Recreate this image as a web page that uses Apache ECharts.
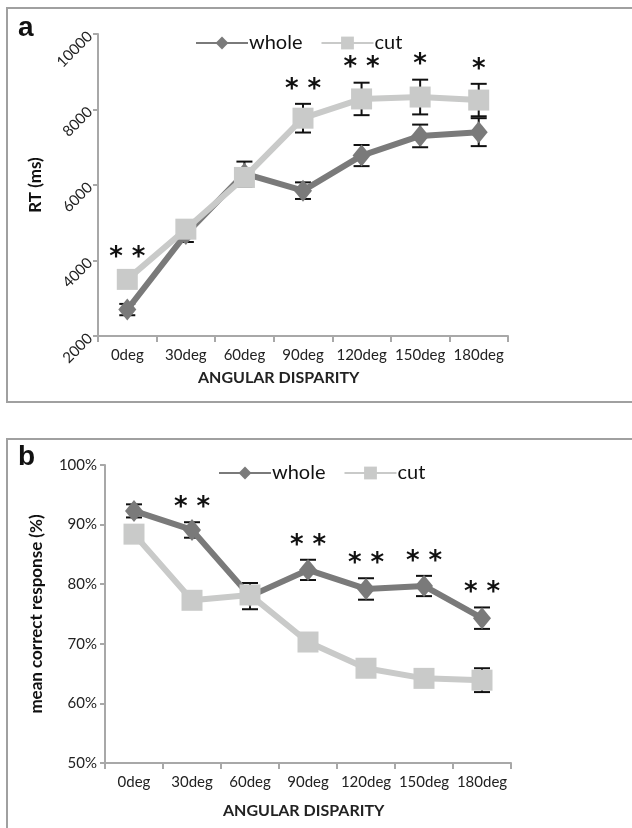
<!DOCTYPE html>
<html>
<head>
<meta charset="utf-8">
<script src="https://cdn.jsdelivr.net/npm/echarts@6/dist/echarts.min.js"></script>
<style>
  html, body { margin: 0; padding: 0; background: #fff; }
  #chart { width: 632px; height: 828px; }
</style>
</head>
<body>
<div id="chart"></div>
<script>
// Angular disparity conditions
const categories = ['0deg', '30deg', '60deg', '90deg', '120deg', '150deg', '180deg'];

// Panel a: reaction time (ms)
const rtWhole    = [2700, 4700, 6300, 5850, 6780, 7300, 7400];
const rtWholeErr = [150, 210, 320, 220, 280, 300, 370];
const rtCut      = [3500, 4830, 6200, 7770, 8280, 8330, 8250];
const rtCutErr   = [200, 200, 250, 380, 430, 460, 430];
const rtStars    = ['**', '', '', '**', '**', '*', '*'];
const rtTicks    = [2000, 10000, 2000]; // min, max, step

// Panel b: mean correct response (%)
const pcWhole    = [92.3, 89.1, 78.0, 82.4, 79.2, 79.7, 74.3];
const pcWholeErr = [1.1, 1.3, 2.2, 1.7, 1.8, 1.7, 1.8];
const pcCut      = [88.4, 77.3, 78.2, 70.3, 65.9, 64.2, 63.9];
const pcCutErr   = [1.0, 1.0, 1.0, 1.2, 1.2, 1.3, 2.0];
const pcStars    = ['', '**', '', '**', '**', '**', '**'];
const pcTicks    = [50, 100, 10];

const DARK = '#7a7a7a';
const LIGHT = '#c9cac9';
const AXIS = '#a8a8a8';
const FONT = 'Lato';

const chart = echarts.init(document.getElementById('chart'), null, { renderer: 'canvas' });

function errorBars(xAxisIndex, yAxisIndex, means, errs, z) {
  return {
    type: 'custom',
    xAxisIndex, yAxisIndex, z,
    silent: true,
    data: means.map((m, i) => [i, m - errs[i], m + errs[i]]),
    renderItem(params, api) {
      const x = api.value(0);
      const lo = api.coord([x, api.value(1)]);
      const hi = api.coord([x, api.value(2)]);
      const half = 8;
      const style = { stroke: '#111', lineWidth: 2 };
      return {
        type: 'group',
        children: [
          { type: 'line', shape: { x1: lo[0], y1: lo[1], x2: hi[0], y2: hi[1] }, style },
          { type: 'line', shape: { x1: lo[0] - half, y1: lo[1], x2: lo[0] + half, y2: lo[1] }, style },
          { type: 'line', shape: { x1: hi[0] - half, y1: hi[1], x2: hi[0] + half, y2: hi[1] }, style }
        ]
      };
    }
  };
}

function stars(xAxisIndex, yAxisIndex, means, errs, marks) {
  return {
    type: 'custom',
    xAxisIndex, yAxisIndex, z: 10,
    silent: true,
    data: means.map((m, i) => [i, m + errs[i], marks[i]]),
    renderItem(params, api) {
      const p = api.coord([api.value(0), api.value(1)]);
      const txt = marks[params.dataIndex];
      if (!txt) return null;
      return {
        type: 'text',
        style: {
          text: txt.split('').join(' '),
          x: p[0], y: p[1] - 1,
          align: 'center', verticalAlign: 'bottom',
          font: 'bold 26px "DejaVu Sans"', fill: '#111'
        }
      };
    }
  };
}

function lineSeries(name, xi, yi, data, color, symbol, size) {
  return {
    type: 'line', name, xAxisIndex: xi, yAxisIndex: yi, data,
    symbol, symbolSize: size,
    lineStyle: { color, width: 6 },
    itemStyle: { color },
    z: name === 'whole' ? 3 : 4,
    animation: false
  };
}

const catAxis = (gridIndex) => ({
  type: 'category', gridIndex, data: categories, boundaryGap: true,
  axisLine: { lineStyle: { color: AXIS, width: 2 } },
  axisTick: { show: true, length: 6, interval: 0, lineStyle: { color: AXIS, width: 2 } },
  axisLabel: { interval: 0, color: '#222', fontSize: 15, fontFamily: FONT, margin: 12 }
});

chart.setOption({
  animation: false,
  graphic: [
    { type: 'rect', shape: { x: 7, y: 8, width: 640, height: 394 }, style: { fill: 'none', stroke: '#a0a0a0', lineWidth: 2 }, z: -1 },
    { type: 'rect', shape: { x: 7, y: 439, width: 640, height: 420 }, style: { fill: 'none', stroke: '#a0a0a0', lineWidth: 2 }, z: -1 },
    { type: 'text', left: 18, top: 14, style: { text: 'a', font: 'bold 28px "Liberation Sans"', fill: '#111' } },
    { type: 'text', left: 18, top: 443, style: { text: 'b', font: 'bold 28px "Liberation Sans"', fill: '#111' } },
    { type: 'text', left: 198, top: 370, style: { text: 'ANGULAR DISPARITY', font: 'bold 16px ' + FONT, fill: '#222' } },
    { type: 'text', left: 223, top: 803, style: { text: 'ANGULAR DISPARITY', font: 'bold 16px ' + FONT, fill: '#222' } }
  ],
  legend: [
    {
      left: 190, top: 28, itemWidth: 52, itemHeight: 16, itemGap: 18,
      data: ['whole', 'cut'],
      textStyle: { fontSize: 20, fontFamily: FONT, color: '#111', padding: [0, 0, 0, -4] }
    },
    {
      left: 213, top: 458, itemWidth: 52, itemHeight: 16, itemGap: 18,
      data: ['whole', 'cut'],
      textStyle: { fontSize: 20, fontFamily: FONT, color: '#111', padding: [0, 0, 0, -4] }
    }
  ],
  grid: [
    { left: 98, top: 34, width: 410, height: 302 },
    { left: 105, top: 465, width: 406, height: 298 }
  ],
  xAxis: [catAxis(0), catAxis(1)],
  yAxis: [
    {
      type: 'value', gridIndex: 0, min: rtTicks[0], max: rtTicks[1], interval: rtTicks[2],
      name: 'RT (ms)', nameLocation: 'middle', nameGap: 52,
      nameTextStyle: { fontSize: 17, fontWeight: 'bold', fontFamily: FONT, color: '#111' },
      splitLine: { show: false },
      axisLine: { show: true, lineStyle: { color: AXIS, width: 2 } },
      axisTick: { show: true, length: 5, lineStyle: { color: AXIS, width: 2 } },
      axisLabel: { rotate: 45, color: '#222', fontSize: 15, fontFamily: FONT, margin: 8, formatter: (v) => String(v) }
    },
    {
      type: 'value', gridIndex: 1, min: pcTicks[0], max: pcTicks[1], interval: pcTicks[2],
      name: 'mean correct response (%)', nameLocation: 'middle', nameGap: 60,
      nameTextStyle: { fontSize: 17, fontWeight: 'bold', fontFamily: FONT, color: '#111' },
      splitLine: { show: false },
      axisLine: { show: true, lineStyle: { color: AXIS, width: 2 } },
      axisTick: { show: true, length: 5, lineStyle: { color: AXIS, width: 2 } },
      axisLabel: { color: '#222', fontSize: 15, fontFamily: FONT, margin: 8, formatter: '{value}%' }
    }
  ],
  series: [
    errorBars(0, 0, rtWhole, rtWholeErr, 2),
    errorBars(0, 0, rtCut, rtCutErr, 2),
    lineSeries('whole', 0, 0, rtWhole, DARK, 'diamond', [18, 22]),
    lineSeries('cut', 0, 0, rtCut, LIGHT, 'rect', 21),
    stars(0, 0, rtCut, rtCutErr, rtStars),

    errorBars(1, 1, pcWhole, pcWholeErr, 2),
    errorBars(1, 1, pcCut, pcCutErr, 2),
    lineSeries('whole', 1, 1, pcWhole, DARK, 'diamond', [18, 22]),
    lineSeries('cut', 1, 1, pcCut, LIGHT, 'rect', 21),
    stars(1, 1, pcWhole, pcWholeErr, pcStars)
  ]
});
</script>
</body>
</html>
